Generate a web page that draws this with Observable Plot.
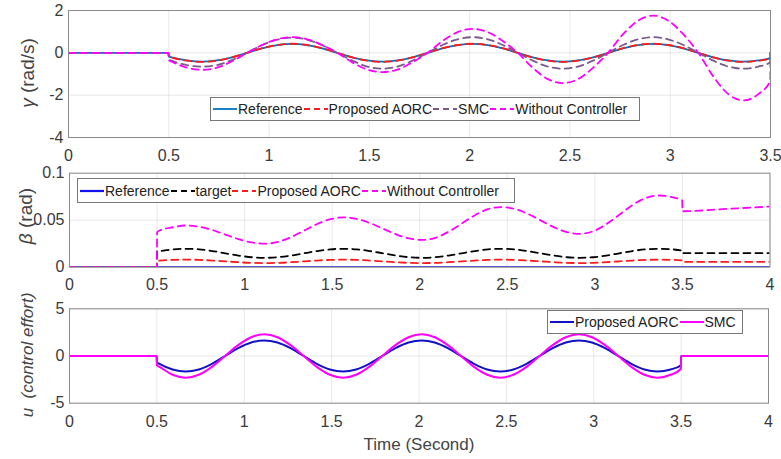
<!DOCTYPE html>
<html>
<head>
<meta charset="utf-8">
<script src="https://cdn.jsdelivr.net/npm/d3@7"></script>
<script src="https://cdn.jsdelivr.net/npm/@observablehq/plot@0.6"></script>
<style>
  html, body { margin: 0; padding: 0; background: #fff; }
  #chart { position: relative; width: 781px; height: 459px; background: #fff; overflow: hidden;
           font-family: "Liberation Sans", Arial, sans-serif; color: #333; }
  .panel { position: absolute; left: 0; }
  .ylab { position: absolute; white-space: nowrap; transform: translate(-50%, -50%) rotate(-90deg); color: #444; }
  .legend { position: absolute; background: #fff; border: 1px solid #777; box-sizing: border-box;
            display: flex; align-items: center; font-size: 14px; color: #222; padding-left: 1px; white-space: nowrap; }
  .legend .item { display: flex; align-items: center; }
  .legend svg { display: block; }
  .xlab { position: absolute; transform: translate(-50%, -50%); font-size: 17px; color: #444; white-space: nowrap; }
</style>
</head>
<body>
<div id="chart"></div>
<script>
// ---------- Data ----------
// Panel 1: yaw rate gamma (rad/s)
const tGamma = [0, 0.499, 0.5, 0.515, 0.59, 0.665, 0.74, 0.815, 0.89, 0.965, 1.04, 1.115, 1.19, 1.265, 1.34, 1.415, 1.49, 1.565, 1.64, 1.715, 1.79, 1.865, 1.94, 2.015, 2.09, 2.165, 2.24, 2.315, 2.39, 2.465, 2.54, 2.615, 2.69, 2.765, 2.84, 2.915, 2.99, 3.065, 3.14, 3.215, 3.29, 3.365, 3.44, 3.499, 3.5];
const gammaReference = [0, 0, -0.17, -0.21, -0.36, -0.42, -0.36, -0.21, 0, 0.21, 0.36, 0.42, 0.36, 0.21, 0, -0.21, -0.36, -0.42, -0.36, -0.21, 0, 0.21, 0.36, 0.42, 0.36, 0.21, 0, -0.21, -0.36, -0.42, -0.36, -0.21, 0, 0.21, 0.36, 0.42, 0.36, 0.21, 0, -0.21, -0.36, -0.42, -0.36, -0.25, 0];
const gammaAORC = [0, 0, -0.17, -0.22, -0.37, -0.43, -0.37, -0.22, 0, 0.22, 0.37, 0.43, 0.37, 0.22, 0, -0.22, -0.37, -0.43, -0.37, -0.22, 0, 0.22, 0.37, 0.43, 0.37, 0.22, 0, -0.22, -0.37, -0.43, -0.37, -0.22, 0, 0.22, 0.37, 0.43, 0.37, 0.22, 0, -0.22, -0.37, -0.43, -0.37, -0.26, 0];
const gammaSMC = [0, 0, -0.3, -0.37, -0.58, -0.65, -0.58, -0.34, 0, 0.36, 0.62, 0.72, 0.62, 0.36, 0, -0.37, -0.65, -0.75, -0.65, -0.37, 0, 0.37, 0.64, 0.74, 0.64, 0.37, 0, -0.37, -0.65, -0.75, -0.65, -0.37, 0, 0.37, 0.64, 0.74, 0.64, 0.37, 0, -0.37, -0.65, -0.75, -0.65, -0.44, 0];
const gammaWithout = [0, 0, -0.35, -0.42, -0.7, -0.8, -0.7, -0.4, 0, 0.37, 0.64, 0.74, 0.64, 0.37, 0, -0.45, -0.79, -0.91, -0.79, -0.45, 0, 0.56, 0.98, 1.13, 0.98, 0.56, 0, -0.71, -1.24, -1.43, -1.24, -0.71, 0, 0.88, 1.52, 1.76, 1.52, 0.88, 0, -1.12, -1.95, -2.25, -1.95, -1.32, 0];

// Panel 2: sideslip beta (rad)
const tBeta = [0, 0.499, 0.5, 0.515, 0.59, 0.665, 0.74, 0.815, 0.89, 0.965, 1.04, 1.115, 1.19, 1.265, 1.34, 1.415, 1.49, 1.565, 1.64, 1.715, 1.79, 1.865, 1.94, 2.015, 2.09, 2.165, 2.24, 2.315, 2.39, 2.465, 2.54, 2.615, 2.69, 2.765, 2.84, 2.915, 2.99, 3.065, 3.14, 3.215, 3.29, 3.365, 3.44, 3.499, 3.5, 3.75, 4];
const tBetaRef = [0, 4];
const betaReference = [0, 0];
const betaTarget = [0, 0, 0.017, 0.0172, 0.0190, 0.0196, 0.0190, 0.0172, 0.0148, 0.0124, 0.0106, 0.0100, 0.0106, 0.0124, 0.0148, 0.0172, 0.0190, 0.0196, 0.0190, 0.0172, 0.0148, 0.0124, 0.0106, 0.0100, 0.0106, 0.0124, 0.0148, 0.0172, 0.0190, 0.0196, 0.0190, 0.0172, 0.0148, 0.0124, 0.0106, 0.0100, 0.0106, 0.0124, 0.0148, 0.0172, 0.0190, 0.0196, 0.0190, 0.0176, 0.0150, 0.0150, 0.0150];
const betaAORC = [0, 0, 0.0069, 0.0071, 0.0078, 0.0080, 0.0078, 0.0071, 0.0062, 0.0053, 0.0046, 0.0044, 0.0046, 0.0053, 0.0062, 0.0071, 0.0078, 0.0080, 0.0078, 0.0071, 0.0062, 0.0053, 0.0046, 0.0044, 0.0046, 0.0053, 0.0062, 0.0071, 0.0078, 0.0080, 0.0078, 0.0071, 0.0062, 0.0053, 0.0046, 0.0044, 0.0046, 0.0053, 0.0062, 0.0071, 0.0078, 0.0080, 0.0078, 0.0073, 0.0056, 0.0056, 0.0057];
const betaWithout = [0, 0, 0.037, 0.039, 0.0425, 0.0444, 0.0431, 0.0396, 0.0347, 0.0299, 0.0263, 0.025, 0.0269, 0.032, 0.039, 0.046, 0.0511, 0.053, 0.0514, 0.047, 0.041, 0.035, 0.0306, 0.029, 0.0313, 0.0378, 0.0465, 0.0553, 0.0617, 0.064, 0.0621, 0.0569, 0.0498, 0.0426, 0.0374, 0.0355, 0.0382, 0.0457, 0.0559, 0.0661, 0.0736, 0.0763, 0.0745, 0.071, 0.0595, 0.062, 0.0645];

// Panel 3: control effort u
const tU = [0, 0.499, 0.5, 0.515, 0.59, 0.665, 0.74, 0.815, 0.89, 0.965, 1.04, 1.115, 1.19, 1.265, 1.34, 1.415, 1.49, 1.565, 1.64, 1.715, 1.79, 1.865, 1.94, 2.015, 2.09, 2.165, 2.24, 2.315, 2.39, 2.465, 2.54, 2.615, 2.69, 2.765, 2.84, 2.915, 2.99, 3.065, 3.14, 3.215, 3.29, 3.365, 3.44, 3.499, 3.5, 4];
const uAORC = [0, 0, -0.67, -0.83, -1.43, -1.65, -1.43, -0.83, 0, 0.83, 1.43, 1.65, 1.43, 0.83, 0, -0.83, -1.43, -1.65, -1.43, -0.83, 0, 0.83, 1.43, 1.65, 1.43, 0.83, 0, -0.83, -1.43, -1.65, -1.43, -0.83, 0, 0.83, 1.43, 1.65, 1.43, 0.83, 0, -0.83, -1.43, -1.65, -1.43, -0.97, 0, 0];
const uSMC = [0, 0, -1.0, -1.15, -1.99, -2.3, -1.99, -1.15, 0, 1.15, 1.99, 2.3, 1.99, 1.15, 0, -1.15, -1.99, -2.3, -1.99, -1.15, 0, 1.15, 1.99, 2.3, 1.99, 1.15, 0, -1.15, -1.99, -2.3, -1.99, -1.15, 0, 1.15, 1.99, 2.3, 1.99, 1.15, 0, -1.15, -1.99, -2.3, -1.99, -1.35, 0, 0];

// Ticks
const xTicks35 = [0, 0.5, 1, 1.5, 2, 2.5, 3, 3.5];
const xTicks4 = [0, 0.5, 1, 1.5, 2, 2.5, 3, 3.5, 4];
const yTicksGamma = [-4, -2, 0, 2];
const yTicksBeta = [0, 0.05, 0.1];
const yTicksU = [-5, 0, 5];

// Labels
const legendGamma = ["Reference", "Proposed AORC", "SMC", "Without Controller"];
const legendBeta = ["Reference", "target", "Proposed AORC", "Without Controller"];
const legendU = ["Proposed AORC", "SMC"];

// ---------- Drawing ----------
const zip = (t, v) => t.map((x, i) => ({t: x, v: v[i]}));
const fmt = d => String(d);
const DASH = "7,5";

function panel({top, height, mt, mb, ml, mr, xDomain, xTicks, yDomain, yTicks, series}) {
  const svg = Plot.plot({
    width: 781, height,
    marginTop: mt, marginBottom: mb, marginLeft: ml, marginRight: mr,
    style: {background: "transparent", fontFamily: "'Liberation Sans', Arial, sans-serif", fontSize: "16px", color: "#3a3a3a", overflow: "visible"},
    x: {domain: xDomain},
    y: {domain: yDomain},
    marks: [
      Plot.ruleX(xTicks, {stroke: "#000", strokeOpacity: 0.09}),
      Plot.ruleY(yTicks, {stroke: "#000", strokeOpacity: 0.09}),
      Plot.axisX({ticks: xTicks, tickSize: 0, tickPadding: series.padX, tickFormat: fmt, label: null}),
      Plot.axisY({ticks: yTicks, tickSize: 0, tickPadding: 5, tickFormat: fmt, label: null}),
      ...series.lines.map(s => Plot.line(zip(s.t, s.v), {
        x: "t", y: "v", stroke: s.color, strokeWidth: s.w || 1.7,
        strokeDasharray: s.dash ? DASH : null, curve: "monotone-x", clip: true
      })),
      Plot.frame({stroke: "#8a8a8a", strokeWidth: 1})
    ]
  });
  svg.classList.add("panel");
  svg.style.top = top + "px";
  svg.style.position = "absolute";
  return svg;
}

const chart = document.getElementById("chart");

const colRefG = "#0072BD", colRed = "#ff1a1a", colSMCg = "#7a5a8c", colMag = "#ff00ff",
      colRefB = "#1010ee", colBlack = "#000000", colAORCu = "#1212c4";

chart.appendChild(panel({
  top: 0, height: 165, mt: 10, mb: 28, ml: 68, mr: 11,
  xDomain: [0, 3.5], xTicks: xTicks35, yDomain: [-4, 2], yTicks: yTicksGamma,
  series: {padX: 12, lines: [
    {t: tGamma, v: gammaReference, color: colRefG, w: 1.8},
    {t: tGamma, v: gammaAORC, color: colRed, dash: true, w: 1.8},
    {t: tGamma, v: gammaSMC, color: colSMCg, dash: true, w: 1.8},
    {t: tGamma, v: gammaWithout, color: colMag, dash: true, w: 1.8}
  ]}
}));

chart.appendChild(panel({
  top: 160, height: 135, mt: 12.7, mb: 28.3, ml: 69, mr: 11.5,
  xDomain: [0, 4], xTicks: xTicks4, yDomain: [0, 0.1], yTicks: yTicksBeta,
  series: {padX: 11, lines: [
    {t: tBetaRef, v: betaReference, color: colRefB, w: 2.2},
    {t: tBeta, v: betaTarget, color: colBlack, dash: true, w: 1.8},
    {t: tBeta, v: betaAORC, color: colRed, dash: true, w: 1.8},
    {t: tBeta, v: betaWithout, color: colMag, dash: true, w: 1.8}
  ]}
}));

chart.appendChild(panel({
  top: 295, height: 164, mt: 13.3, mb: 56.3, ml: 69, mr: 13,
  xDomain: [0, 4], xTicks: xTicks4, yDomain: [-5, 5], yTicks: yTicksU,
  series: {padX: 12, lines: [
    {t: tU, v: uAORC, color: colAORCu, w: 2},
    {t: tU, v: uSMC, color: colMag, w: 2}
  ]}
}));

// Legends
function swatch(color, dash, w) {
  const ns = "http://www.w3.org/2000/svg";
  const s = document.createElementNS(ns, "svg");
  s.setAttribute("width", 26); s.setAttribute("height", 12);
  const l = document.createElementNS(ns, "line");
  l.setAttribute("x1", 1); l.setAttribute("x2", 25); l.setAttribute("y1", 6); l.setAttribute("y2", 6);
  l.setAttribute("stroke", color); l.setAttribute("stroke-width", w || 1.8);
  if (dash) l.setAttribute("stroke-dasharray", "6,4");
  s.appendChild(l);
  return s;
}
function legend(box, names, styles) {
  const d = document.createElement("div");
  d.className = "legend";
  Object.assign(d.style, {left: box[0] + "px", top: box[1] + "px", width: box[2] + "px", height: box[3] + "px"});
  names.forEach((n, i) => {
    const it = document.createElement("div");
    it.className = "item";
    it.appendChild(swatch(styles[i].color, styles[i].dash, styles[i].w));
    const sp = document.createElement("span");
    sp.textContent = n;
    it.appendChild(sp);
    d.appendChild(it);
  });
  chart.appendChild(d);
}
legend([210, 97, 430, 24], legendGamma, [
  {color: colRefG}, {color: colRed, dash: true}, {color: colSMCg, dash: true}, {color: colMag, dash: true}
]);
legend([77, 178, 438, 25], legendBeta, [
  {color: colRefB, w: 2.2}, {color: colBlack, dash: true}, {color: colRed, dash: true}, {color: colMag, dash: true}
]);
legend([547, 310, 196, 24], legendU, [
  {color: colAORCu, w: 2}, {color: colMag, w: 2}
]);

// Axis labels
function label(html, cx, cy, size, cls, extra) {
  const d = document.createElement("div");
  d.className = cls;
  d.innerHTML = html;
  Object.assign(d.style, {left: cx + "px", top: cy + "px", fontSize: size + "px"}, extra || {});
  chart.appendChild(d);
}
label("<span style='font-style:italic'>γ</span> (rad/s)", 28, 73, 19, "ylab");
label("<span style='font-style:italic'>β</span> (rad)", 26, 216, 19, "ylab");
label("u&nbsp;&nbsp;(control effort)", 28, 355, 17, "ylab", {fontStyle: "italic"});
label("Time (Second)", 419, 445, 17, "xlab");
</script>
</body>
</html>
